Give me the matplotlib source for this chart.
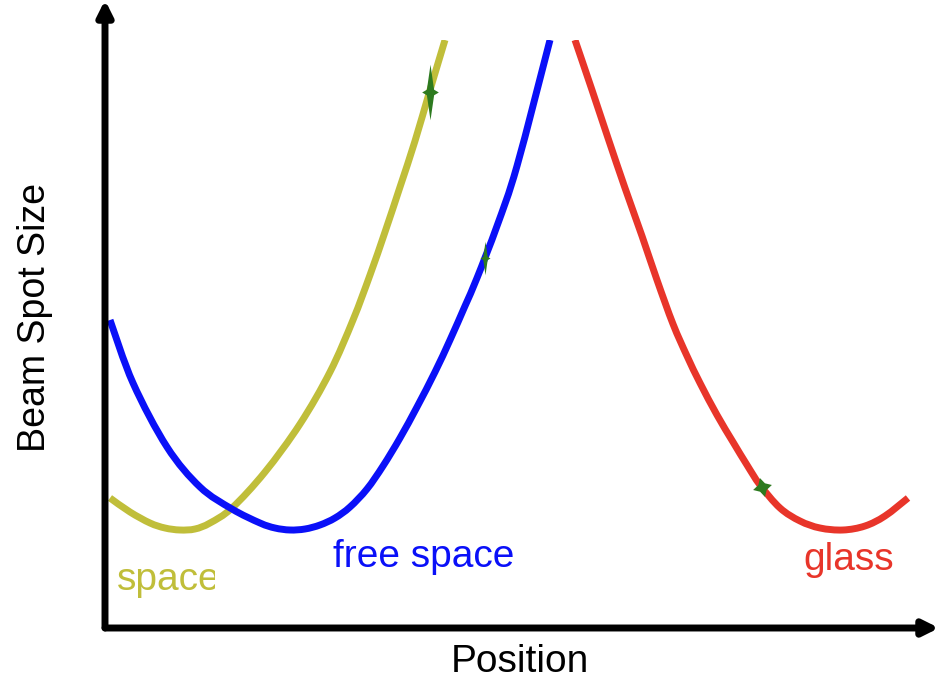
import matplotlib
matplotlib.use("Agg")
import matplotlib.pyplot as plt
from matplotlib.patches import Rectangle, PathPatch
from matplotlib.path import Path

plt.rcParams['font.family'] = ['Liberation Sans', 'DejaVu Sans']

# beam spot size vs position, read in arbitrary units
space_pos = [0.05, 0.25, 0.45, 0.60, 0.75, 0.90, 1.05, 1.27, 1.60, 1.95, 2.25, 2.48, 2.65,
             2.80, 2.95, 3.10, 3.25, 3.40]
space_size = [1.30, 1.16, 1.05, 1.00, 0.98, 0.99, 1.05, 1.20, 1.56, 2.04, 2.56, 3.08, 3.53,
              3.96, 4.41, 4.87, 5.38, 5.88]

free_pos = [0.05, 0.28, 0.62, 0.95, 1.27, 1.55, 1.70, 1.85, 2.00, 2.15, 2.30, 2.45, 2.62,
            2.78, 2.95, 3.12, 3.30, 3.45, 3.60, 3.72, 3.92, 4.12, 4.45]
free_size = [3.08, 2.45, 1.81, 1.41, 1.19, 1.05, 1.00, 0.98, 0.99, 1.03, 1.10, 1.21, 1.39,
             1.62, 1.90, 2.21, 2.56, 2.88, 3.22, 3.50, 4.02, 4.62, 5.88]

glass_pos = [4.70, 4.87, 5.03, 5.20, 5.37, 5.52, 5.68, 5.82, 5.95, 6.12, 6.28, 6.42, 6.55,
             6.75, 6.95, 7.15, 7.38, 7.60, 7.80, 8.03]
glass_size = [5.88, 5.38, 4.90, 4.40, 3.92, 3.48, 3.04, 2.72, 2.45, 2.13, 1.86, 1.63, 1.43,
              1.20, 1.07, 1.00, 0.98, 1.02, 1.12, 1.30]

# small green markers sitting on the curves
mark_pos = [3.25, 3.80, 6.57]
mark_size = [5.36, 3.70, 1.41]
mark_len = [40, 24, 14]

yellow = '#c0be3a'
blue = '#0a10f8'
red = '#e8352a'
green = '#2d7a1f'


def smooth_path(xs, ys):
    # Catmull-Rom through the points, written as cubic Bezier segments
    pts = list(zip(xs, ys))
    verts = [pts[0]]
    codes = [Path.MOVETO]
    for i in range(len(pts) - 1):
        p0 = pts[i - 1] if i > 0 else pts[i]
        p1 = pts[i]
        p2 = pts[i + 1]
        p3 = pts[i + 2] if i + 2 < len(pts) else pts[i + 1]
        c1 = (p1[0] + (p2[0] - p0[0]) / 6, p1[1] + (p2[1] - p0[1]) / 6)
        c2 = (p2[0] - (p3[0] - p1[0]) / 6, p2[1] - (p3[1] - p1[1]) / 6)
        verts += [c1, c2, p2]
        codes += [Path.CURVE4] * 3
    return Path(verts, codes)


W, H = 939, 681
fig = plt.figure(figsize=(W / 100, H / 100), dpi=100)
ax = fig.add_axes([105 / W, (H - 628) / H, (W - 105) / W, 628 / H])
ax.set_xlim(0, 8.34)
ax.set_ylim(0, 6.28)
ax.axis('off')

for xs, ys, c in [(space_pos, space_size, yellow),
                  (free_pos, free_size, blue),
                  (glass_pos, glass_size, red)]:
    patch = PathPatch(smooth_path(xs, ys), fill=False, edgecolor=c, lw=5,
                      capstyle='butt', joinstyle='round')
    ax.add_patch(patch)
    patch.set_clip_path(Rectangle((0, 0), 8.34, 5.88, transform=ax.transData))

thin_star = [(0, 1), (0.13, 0.1), (0.3, 0), (0.13, -0.1), (0, -1),
             (-0.13, -0.1), (-0.3, 0), (-0.13, 0.1), (0, 1)]
for i in range(2):
    ax.plot(mark_pos[i], mark_size[i], marker=thin_star, ms=mark_len[i],
            color=green, mec='none', zorder=3)
ax.plot(mark_pos[2], mark_size[2], marker=(4, 1, 15), ms=mark_len[2],
        color=green, mec='none', zorder=3)

# axes drawn as arrows
for tip in [(0, 1.0), (1.0, 0)]:
    ax.annotate('', xy=tip, xytext=(0, 0), xycoords='axes fraction',
                arrowprops=dict(arrowstyle='-|>,head_length=0.9,head_width=0.45',
                                lw=5, color='black', shrinkA=0, shrinkB=0),
                annotation_clip=False)

t = ax.text(0.12, 0.38, 'space', color=yellow, fontsize=28, va='baseline',
            clip_on=True)
t.set_clip_path(Rectangle((0, 0), 1.10, 2, transform=ax.transData))
ax.text(2.28, 0.61, 'free space', color=blue, fontsize=28, va='baseline')
ax.text(6.98, 0.58, 'glass', color=red, fontsize=28, va='baseline')

fig.text(520 / W, 1 - 662 / H, 'Position', fontsize=28, ha='center', va='center')
fig.text(35 / W, 1 - 317 / H, 'Beam Spot Size', fontsize=27, rotation=90,
         ha='center', va='center')

fig.savefig('out.png', dpi=100)
